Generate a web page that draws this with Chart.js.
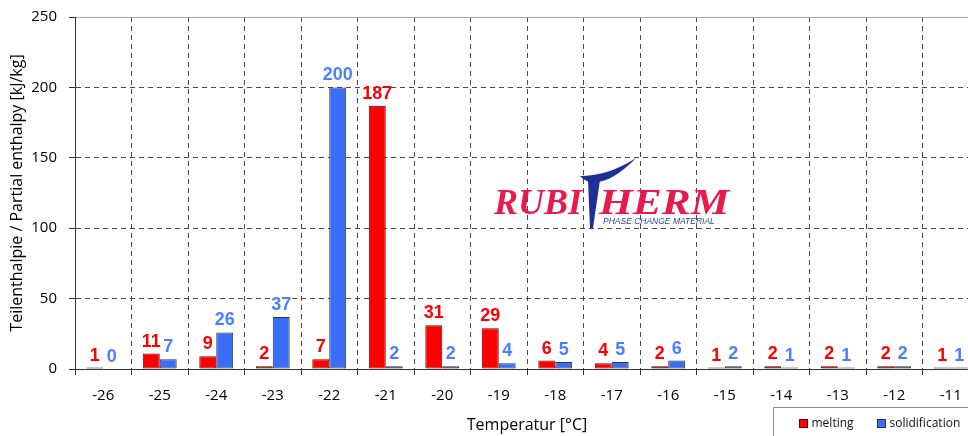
<!DOCTYPE html>
<html>
<head>
<meta charset="utf-8">
<script src="https://cdn.jsdelivr.net/npm/chart.js@4/dist/chart.umd.min.js"></script>
<style>
  html, body { margin: 0; padding: 0; background: #fff; overflow: hidden; }
  #wrap { position: relative; width: 968px; height: 436px; overflow: hidden; }
  #myChart { position: absolute; left: 0; top: 0; }
  .logo { position: absolute; white-space: nowrap; pointer-events: none; }
  .red { font-family: "Liberation Serif", serif; font-weight: bold; font-style: italic;
         font-size: 35px; line-height: 34px; color: #e8194b; transform-origin: left center; }
  .pcm { font-family: "Liberation Sans", sans-serif; font-style: italic; font-size: 8.5px;
         line-height: 9px; color: #2d3e9c; }
</style>
</head>
<body>
<div id="wrap">
  <canvas id="myChart" width="985" height="436"></canvas>
  <div class="logo red" style="left:494px;top:186px;transform:scaleX(1.03);">RUBI</div>
  <div class="logo red" style="left:599px;top:186px;transform:scaleX(1.24);">HERM</div>
  <div class="logo pcm" style="left:603px;top:217px;">PHASE CHANGE MATERIAL</div>
  <svg class="logo" style="left:0;top:0" width="968" height="436">
    <path d="M580,176 C591,189 613,182 636,158 C616,171 597,176 580,176 Z" fill="#1f2f9a"/>
    <path d="M588,180 L600,180 L593,228 L590,228 Z" fill="#1f2f9a"/>
  </svg>
</div>
<script>
const temps = ['-26', '-25', '-24', '-23', '-22', '-21', '-20', '-19', '-18', '-17', '-16', '-15', '-14', '-13', '-12', '-11'];
const melting = [1, 11, 9, 2, 7, 187, 31, 29, 6, 4, 2, 1, 2, 2, 2, 1];
const solidification = [0, 7, 26, 37, 200, 2, 2, 4, 5, 5, 6, 2, 1, 1, 2, 1];
const seriesNames = ['melting', 'solidification'];
const yMax = 250;
const yStep = 50;

const fillColors = ['#ff0000', '#3a6ef8'];
const edgeColors = ['#6b0000', '#333333'];
const labelColors = ['#ff0000', '#4a80ff'];
const tickFont = { family: 'Open Sans', size: 15 };

// numbers above the bars
const valueLabels = {
  id: 'valueLabels',
  afterDatasetsDraw(chart) {
    const c = chart.ctx;
    c.save();
    c.font = 'bold 18px "Liberation Sans", Arial, sans-serif';
    c.textAlign = 'center';
    c.textBaseline = 'alphabetic';
    chart.data.datasets.forEach((ds, i) => {
      chart.getDatasetMeta(i).data.forEach((bar, j) => {
        c.fillStyle = labelColors[i];
        c.fillText(String(ds.data[j]), bar.x, bar.y - 7);
      });
    });
    c.restore();
  }
};

// legend box in the lower right corner
const cornerLegend = {
  id: 'cornerLegend',
  afterDraw(chart) {
    const c = chart.ctx;
    c.save();
    c.fillStyle = '#fff';
    c.strokeStyle = '#8c8c8c';
    c.lineWidth = 1;
    c.fillRect(773.5, 407.5, 300, 40);
    c.strokeRect(773.5, 407.5, 300, 40);
    c.font = '12px "Open Sans", sans-serif';
    c.textBaseline = 'middle';
    const xs = [799.5, 877.5];
    seriesNames.forEach((name, i) => {
      c.fillStyle = fillColors[i];
      c.fillRect(xs[i], 419.5, 8, 8);
      c.strokeStyle = edgeColors[i];
      c.strokeRect(xs[i], 419.5, 8, 8);
      c.fillStyle = '#111';
      c.fillText(name, xs[i] + 12, 424);
    });
    c.restore();
  }
};

const ctx = document.getElementById('myChart').getContext('2d');
const myChart = new Chart(ctx, {
  type: 'bar',
  data: {
    labels: temps,
    datasets: [melting, solidification].map((vals, i) => ({
      label: seriesNames[i],
      data: vals,
      backgroundColor: fillColors[i],
      borderColor: edgeColors[i],
      borderWidth: 1,
      borderSkipped: false,
      categoryPercentage: 0.6,
      barPercentage: 1.0
    }))
  },
  options: {
    responsive: false,
    animation: false,
    devicePixelRatio: 1,
    layout: { padding: { top: 17, right: 6, left: 0, bottom: 0 } },
    plugins: {
      legend: { display: false },
      tooltip: { enabled: false }
    },
    scales: {
      x: {
        offset: true,
        afterFit: s => { s.height = 67; },
        grid: {
          offset: true,
          color: '#4a4a4a',
          lineWidth: 1,
          tickLength: 6,
          tickColor: '#333'
        },
        border: { display: true, color: '#333', width: 1, dash: [5, 4] },
        ticks: { font: tickFont, color: '#000', padding: 12 },
        title: {
          display: true,
          text: 'Temperatur [°C]',
          font: { family: 'Open Sans', size: 16 },
          color: '#000',
          padding: { top: 0, bottom: 1 }
        }
      },
      y: {
        min: 0,
        max: yMax,
        afterFit: s => { s.width = 75; s.paddingTop = 0; s.paddingBottom = 0; },
        grid: {
          color: c => (c.tick && c.tick.value === yMax ? '#a6a6a6' : '#4a4a4a'),
          lineWidth: 1,
          tickLength: 6,
          tickColor: '#333'
        },
        border: {
          display: true, color: '#333', width: 1,
          dash: c => (c.tick && c.tick.value === yMax ? [] : [5, 4])
        },
        ticks: { stepSize: yStep, font: tickFont, color: '#000', padding: 12 },
        title: {
          display: true,
          text: 'Teilenthalpie / Partial enthalpy [kJ/kg]',
          font: { family: 'Open Sans', size: 16 },
          color: '#000',
          padding: { top: 8, bottom: 0 }
        }
      }
    }
  },
  plugins: [valueLabels, cornerLegend]
});
</script>
</body>
</html>
